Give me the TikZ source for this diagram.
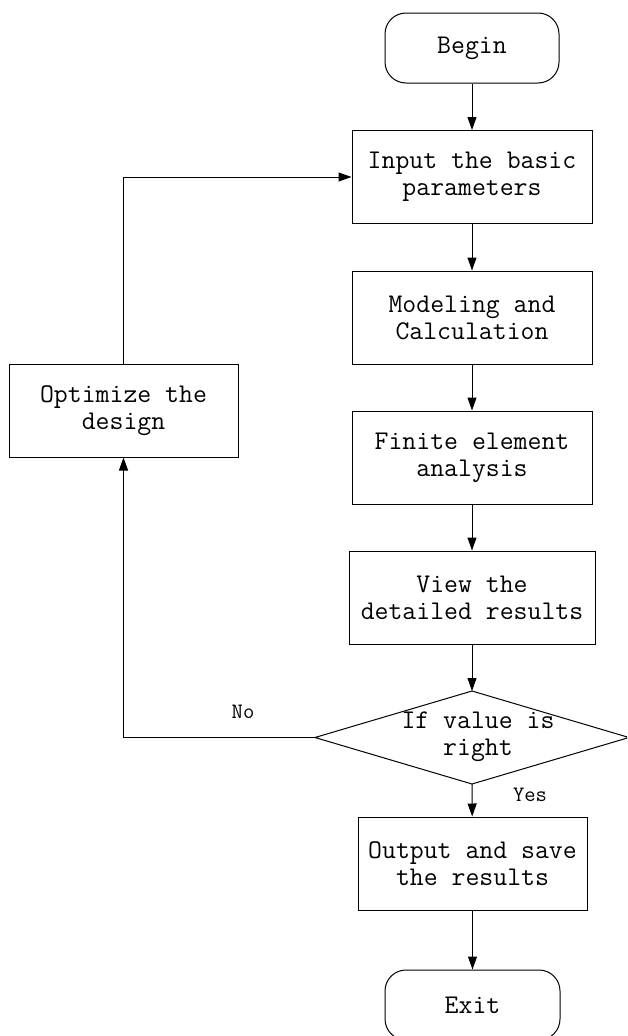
\documentclass[tikz,border=0pt]{standalone}
\usepackage{fontspec}
\usetikzlibrary{arrows.meta}
\begin{document}
\begin{tikzpicture}[x=1pt,y=-1pt,
  every node/.style={font=\ttfamily\fontsize{27}{27}\selectfont, align=center, inner sep=0pt},
  proc/.style={draw, line width=1pt, minimum width=240pt, minimum height=93pt},
  term/.style={draw, line width=1pt, rounded corners=21pt, minimum width=174pt, minimum height=70pt},
  conn/.style={draw, line width=1pt, -{Triangle[length=13pt,width=9pt]}},
  lbl/.style={font=\ttfamily\fontsize{22}{24}\selectfont}]
\useasboundingbox (0,0) rectangle (627,1036);
\clip (0,0) rectangle (627,1036);
\node[term] (begin) at (472,48) {Begin};
\node[proc] (input) at (472,177) {Input the basic\\parameters};
\node[proc] (model) at (472,317.5) {Modeling and\\Calculation};
\node[proc] (fea) at (472,457.5) {Finite element\\analysis};
\node[proc, minimum width=246pt] (view) at (472,597.5) {View the\\detailed results};
\coordinate (dt) at (472,691);
\coordinate (db) at (472,784);
\coordinate (dl) at (315,737.5);
\coordinate (dr) at (629,737.5);
\draw[line width=1pt] (dt) -- (dr) -- (db) -- (dl) -- cycle;
\node (dec) at (478,737) {If value is\\right};
\node[proc, minimum width=229pt] (output) at (472.5,863.5) {Output and save\\the results};
\node[term, minimum width=175pt] (exit) at (472.5,1005) {Exit};
\node[proc, minimum width=229pt] (opt) at (123.5,410.5) {Optimize the\\design};
\node[lbl] (no) at (243,712) {No};
\node[lbl] (yes) at (530,795) {Yes};
\draw[conn] (begin) -- (input);
\draw[conn] (input) -- (model);
\draw[conn] (model) -- (fea);
\draw[conn] (fea) -- (view);
\draw[conn] (view) -- (dt);
\draw[conn] (db) -- (output);
\draw[conn] (output) -- (exit);
\draw[conn] (dl) -| (opt.south);
\draw[conn] (opt.north) |- (input.west);
\end{tikzpicture}
\end{document}
